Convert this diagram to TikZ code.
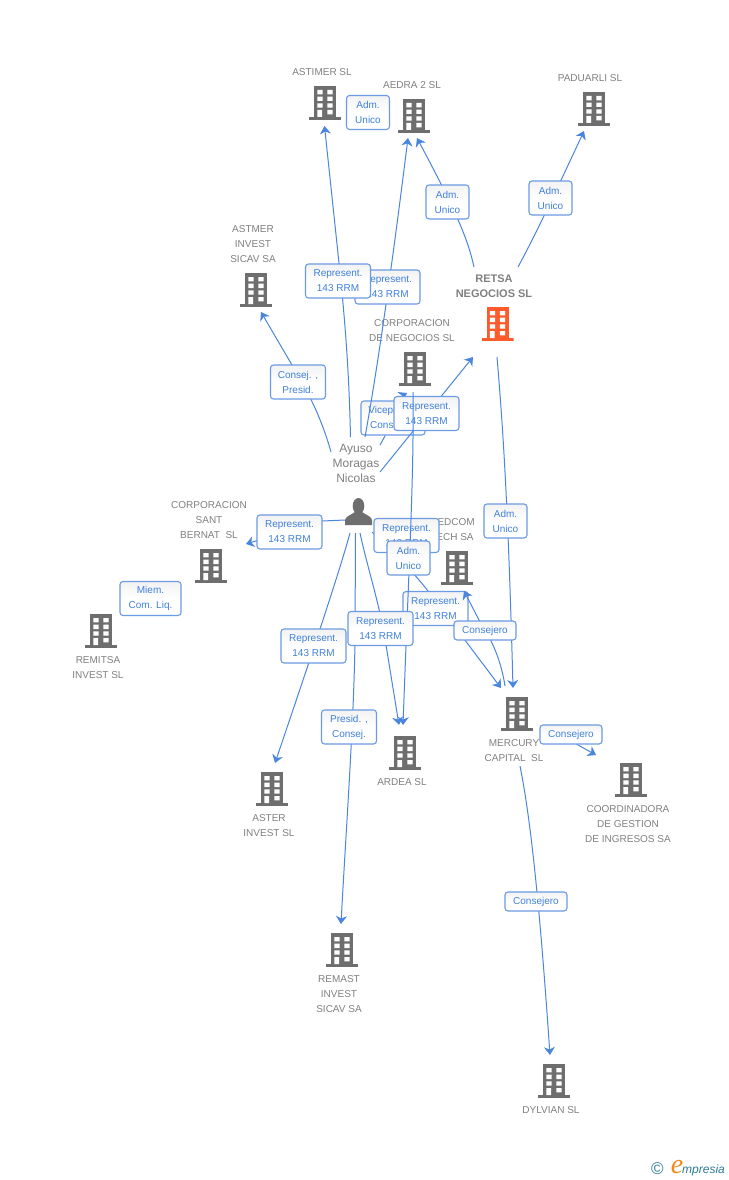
\documentclass[tikz,border=0pt]{standalone}
\usepackage{fontspec}
\setmainfont{Liberation Sans}
\usetikzlibrary{arrows.meta}
\newfontfamily\logofont{Liberation Serif}
\definecolor{bldgrey}{HTML}{6E6E6E}
\definecolor{bldred}{HTML}{FF5A2B}
\definecolor{txtgrey}{HTML}{808080}
\definecolor{linkblue}{HTML}{4A86E0}
\definecolor{lblblue}{HTML}{3F80DC}
\definecolor{lblborder}{HTML}{6A9BE4}
\definecolor{logoteal}{HTML}{2F7C98}
\definecolor{logoorange}{HTML}{F28A1E}
\tikzset{
  x=1pt,y=-1pt,
  bldshape/.style={minimum width=32pt,minimum height=34pt,inner sep=0pt,
    path picture={
      \begin{scope}[shift={(path picture bounding box.center)}]
        \fill[#1] (-11,-17) rectangle (11,14);
        \fill[#1] (-16,14) rectangle (16,17);
        \fill[white] (-7.7,-13) rectangle (-2.3,-8.7) (2.3,-13) rectangle (7.7,-8.7)
          (-7.7,-6.3) rectangle (-2.3,-2) (2.3,-6.3) rectangle (7.7,-2)
          (-7.7,0.3) rectangle (-2.3,4.7) (2.3,0.3) rectangle (7.7,4.7)
          (-7.7,7) rectangle (-3,14) (2.3,7) rectangle (7.7,11.3);
      \end{scope}}},
  bld/.style={bldshape=bldgrey},
  bldhot/.style={bldshape=bldred},
  nm/.style={font=\fontsize{10}{15}\selectfont,text=txtgrey,align=center,inner sep=0pt,yshift=-0.5pt},
  hotname/.style={nm,font=\fontsize{11}{15}\selectfont\bfseries},
  personname/.style={nm,font=\fontsize{12}{15}\selectfont},
  lbl/.style={draw=lblborder,line width=1.1pt,rounded corners=3pt,top color=black!5,bottom color=white,
    middle color=white,font=\fontsize{10}{15}\selectfont,text=lblblue,align=center,inner sep=0pt,minimum height=34pt},
  lblA/.style={lbl,minimum width=43pt},
  lblR/.style={lbl,minimum width=65pt},
  lblP/.style={lbl,minimum width=55pt},
  lblM/.style={lbl,minimum width=61pt},
  lblC/.style={lbl,minimum width=62pt,minimum height=19pt},
  lnk/.style={draw=linkblue,line width=1pt},
  arr/.style={lnk,-{Stealth[length=8pt,width=11pt,inset=2.5pt]}},
}
\begin{document}
\begin{tikzpicture}
\useasboundingbox (0,0) rectangle (728,1180);
\fill[white] (0,0) rectangle (728,1180);

% buildings
\node[bld] (astimer) at (325,103) {};
\node[bld] (aedra) at (414,116) {};
\node[bld] (paduarli) at (594,109) {};
\node[bldhot] (retsa) at (497.5,324) {};
\node[bld] (corpneg) at (415,369) {};
\node[bld] (astmer) at (256,290) {};
\node[bld] (bernat) at (211,566) {};
\node[bld] (remitsa) at (101,631) {};
\node[bld] (medcom) at (457,568) {};
\node[bld] (mercury) at (517,714) {};
\node[bld] (ardea) at (405,753) {};
\node[bld] (aster) at (272,789) {};
\node[bld] (coord) at (631,780) {};
\node[bld] (remast) at (342,950) {};
\node[bld] (dylvian) at (554,1081) {};

% names
\node[nm] (nastimer) at (322,72) {ASTIMER SL};
\node[nm] (naedra) at (412,85) {AEDRA 2 SL};
\node[nm] (npaduarli) at (590,78) {PADUARLI SL};
\node[hotname] (nretsa) at (494,285.5) {RETSA\\NEGOCIOS SL};
\node[nm] (ncorpneg) at (412,330.5) {CORPORACION\\DE NEGOCIOS SL};
\node[nm] (nastmer) at (253,244) {ASTMER\\INVEST\\SICAV SA};
\node[nm] (nbernat) at (209,520) {CORPORACION\\SANT\\BERNAT\ \ SL};
\node[nm] (nremitsa) at (98,667.5) {REMITSA\\INVEST SL};
\node[nm] (nmedcom) at (452,529.5) {MEDCOM\\TECH SA};
\node[nm] (nmercury) at (514,750.5) {MERCURY\\CAPITAL\ \ SL};
\node[nm] (nardea) at (402,782) {ARDEA SL};
\node[nm] (naster) at (269,825.5) {ASTER\\INVEST SL};
\node[nm] (ncoord) at (628,824) {COORDINADORA\\DE GESTION\\DE INGRESOS SA};
\node[nm] (nremast) at (339,994) {REMAST\\INVEST\\SICAV SA};
\node[nm] (ndylvian) at (551,1110) {DYLVIAN SL};

% person
\node[minimum width=28pt,minimum height=28pt,inner sep=0pt] (person) at (358.5,512) {};
\fill[bldgrey] (358.5,506) ellipse (5.8 and 8);
\fill[bldgrey] (345,525) -- (345,520) .. controls (346,516) and (351,515) .. (355,512)
  -- (362,512) .. controls (366,515) and (371,516) .. (372,520) -- (372,525) -- cycle;
\node[personname] (nperson) at (356,463) {Ayuso\\Moragas\\Nicolas};

% connector ends
\coordinate (s1) at (350.5,437); \coordinate (t1) at (324.5,126);
\coordinate (s2) at (365,437); \coordinate (t2) at (408,138);
\coordinate (s3) at (474,267); \coordinate (t3) at (417,138);
\coordinate (s4) at (518,267); \coordinate (t4) at (584,131);
\coordinate (s5) at (331,452); \coordinate (t5) at (261,312);
\coordinate (s6) at (380,445); \coordinate (t6) at (407,393);
\coordinate (s7) at (380,472); \coordinate (t7) at (473,357);
\coordinate (s8) at (413,392); \coordinate (t8) at (403,725);
\coordinate (s9) at (372,532); \coordinate (t9) at (501,688);
\coordinate (s10) at (505,686); \coordinate (t10) at (464,591);
\coordinate (s11) at (345,520); \coordinate (t11) at (246,544);
\coordinate (s12) at (350,533); \coordinate (t12) at (275,763);
\coordinate (s13) at (355.5,533); \coordinate (t13) at (341,924);
\coordinate (s14) at (360,533); \coordinate (t14) at (399,725);
\coordinate (s15) at (497,357); \coordinate (t15) at (513,688);
\coordinate (s16) at (560,735); \coordinate (t16) at (596,755);
\coordinate (s17) at (520,766); \coordinate (t17) at (550,1055);

% connectors and their labels, in stacking order
\draw[arr] (s6) .. controls (392,425) and (398,398) .. (t6);
\node[lblR,minimum width=64pt] (l6) at (393,418) {Vicepresid.\\Consejero};

\draw[arr] (s2) .. controls (379,360) and (394,250) .. (t2);
\node[lblR] (l2) at (387.5,287) {Represent.\\143 RRM};

\draw[arr] (s5) .. controls (322,420) and (310,395) .. (292,365) -- (t5);
\node[lblP] (l5) at (298,382) {Consej. ,\\Presid.};

\draw[arr] (s1) .. controls (349,370) and (345,320) .. (339,263) -- (t1);
\node[lblR] (l1) at (338,281) {Represent.\\143 RRM};

\draw[arr] (s3) .. controls (468,240) and (458,215) .. (t3);
\node[lblA] (l3) at (447.5,202) {Adm.\\Unico};

\draw[arr] (s4) .. controls (530,245) and (545,215) .. (t4);
\node[lblA] (l4) at (550.5,198) {Adm.\\Unico};

\node[lblA] (l4b) at (368,112.5) {Adm.\\Unico};

\draw[arr] (s7) -- (t7);
\node[lblR] (l7) at (426.5,413.5) {Represent.\\143 RRM};

\draw[arr] (s11) -- (322,521) -- (t11);
\node[lblR] (l11) at (289.5,532) {Represent.\\143 RRM};

\node[lblM] (l0) at (150.5,598.5) {Miem.\\Com. Liq.};

\draw[arr] (s12) .. controls (340,570) and (310,660) .. (t12);
\node[lblR] (l12) at (313.5,646) {Represent.\\143 RRM};

\draw[arr] (s13) -- (355,640) .. controls (354,720) and (346,830) .. (t13);
\node[lblP] (l13) at (349,727) {Presid. ,\\Consej.};

\draw[arr] (s9) .. controls (392,552) and (412,570) .. (428,591) -- (t9);
\node[lblR] (l9) at (406.5,535.5) {Represent.\\143 RRM};
\node[lblR] (l9b) at (435.5,608.5) {Represent.\\143 RRM};

\draw[arr] (s8) .. controls (414,480) and (409,560) .. (t8);
\node[lblA] (l8) at (408.5,558) {Adm.\\Unico};

\draw[arr] (s14) .. controls (368,570) and (380,605) .. (386,645) -- (t14);
\node[lblR] (l14) at (380.5,628.5) {Represent.\\143 RRM};

\draw[arr] (s15) .. controls (505,450) and (509,540) .. (t15);
\node[lblA] (l15) at (505.5,521) {Adm.\\Unico};

\draw[arr] (s10) .. controls (501,660) and (492,640) .. (479,620) -- (t10);
\node[lblC] (l10) at (485,630.5) {Consejero};

\draw[arr] (s16) -- (t16);
\node[lblC] (l16) at (571,734.5) {Consejero};

\draw[arr] (s17) .. controls (533,830) and (542,940) .. (t17);
\node[lblC] (l17) at (536,901.5) {Consejero};

% logo
\node[font=\fontsize{17}{17}\selectfont,text=logoteal,inner sep=0pt] (copy) at (657.5,1169) {©};
\node[font=\logofont\itshape\fontsize{28}{28}\selectfont,text=logoorange,inner sep=0pt] (loge) at (677,1167.5) {e};
\node[font=\itshape\fontsize{12}{12}\selectfont,text=logoteal,inner sep=0pt,anchor=west] (logt) at (682,1170) {mpresia};
\end{tikzpicture}
\end{document}
